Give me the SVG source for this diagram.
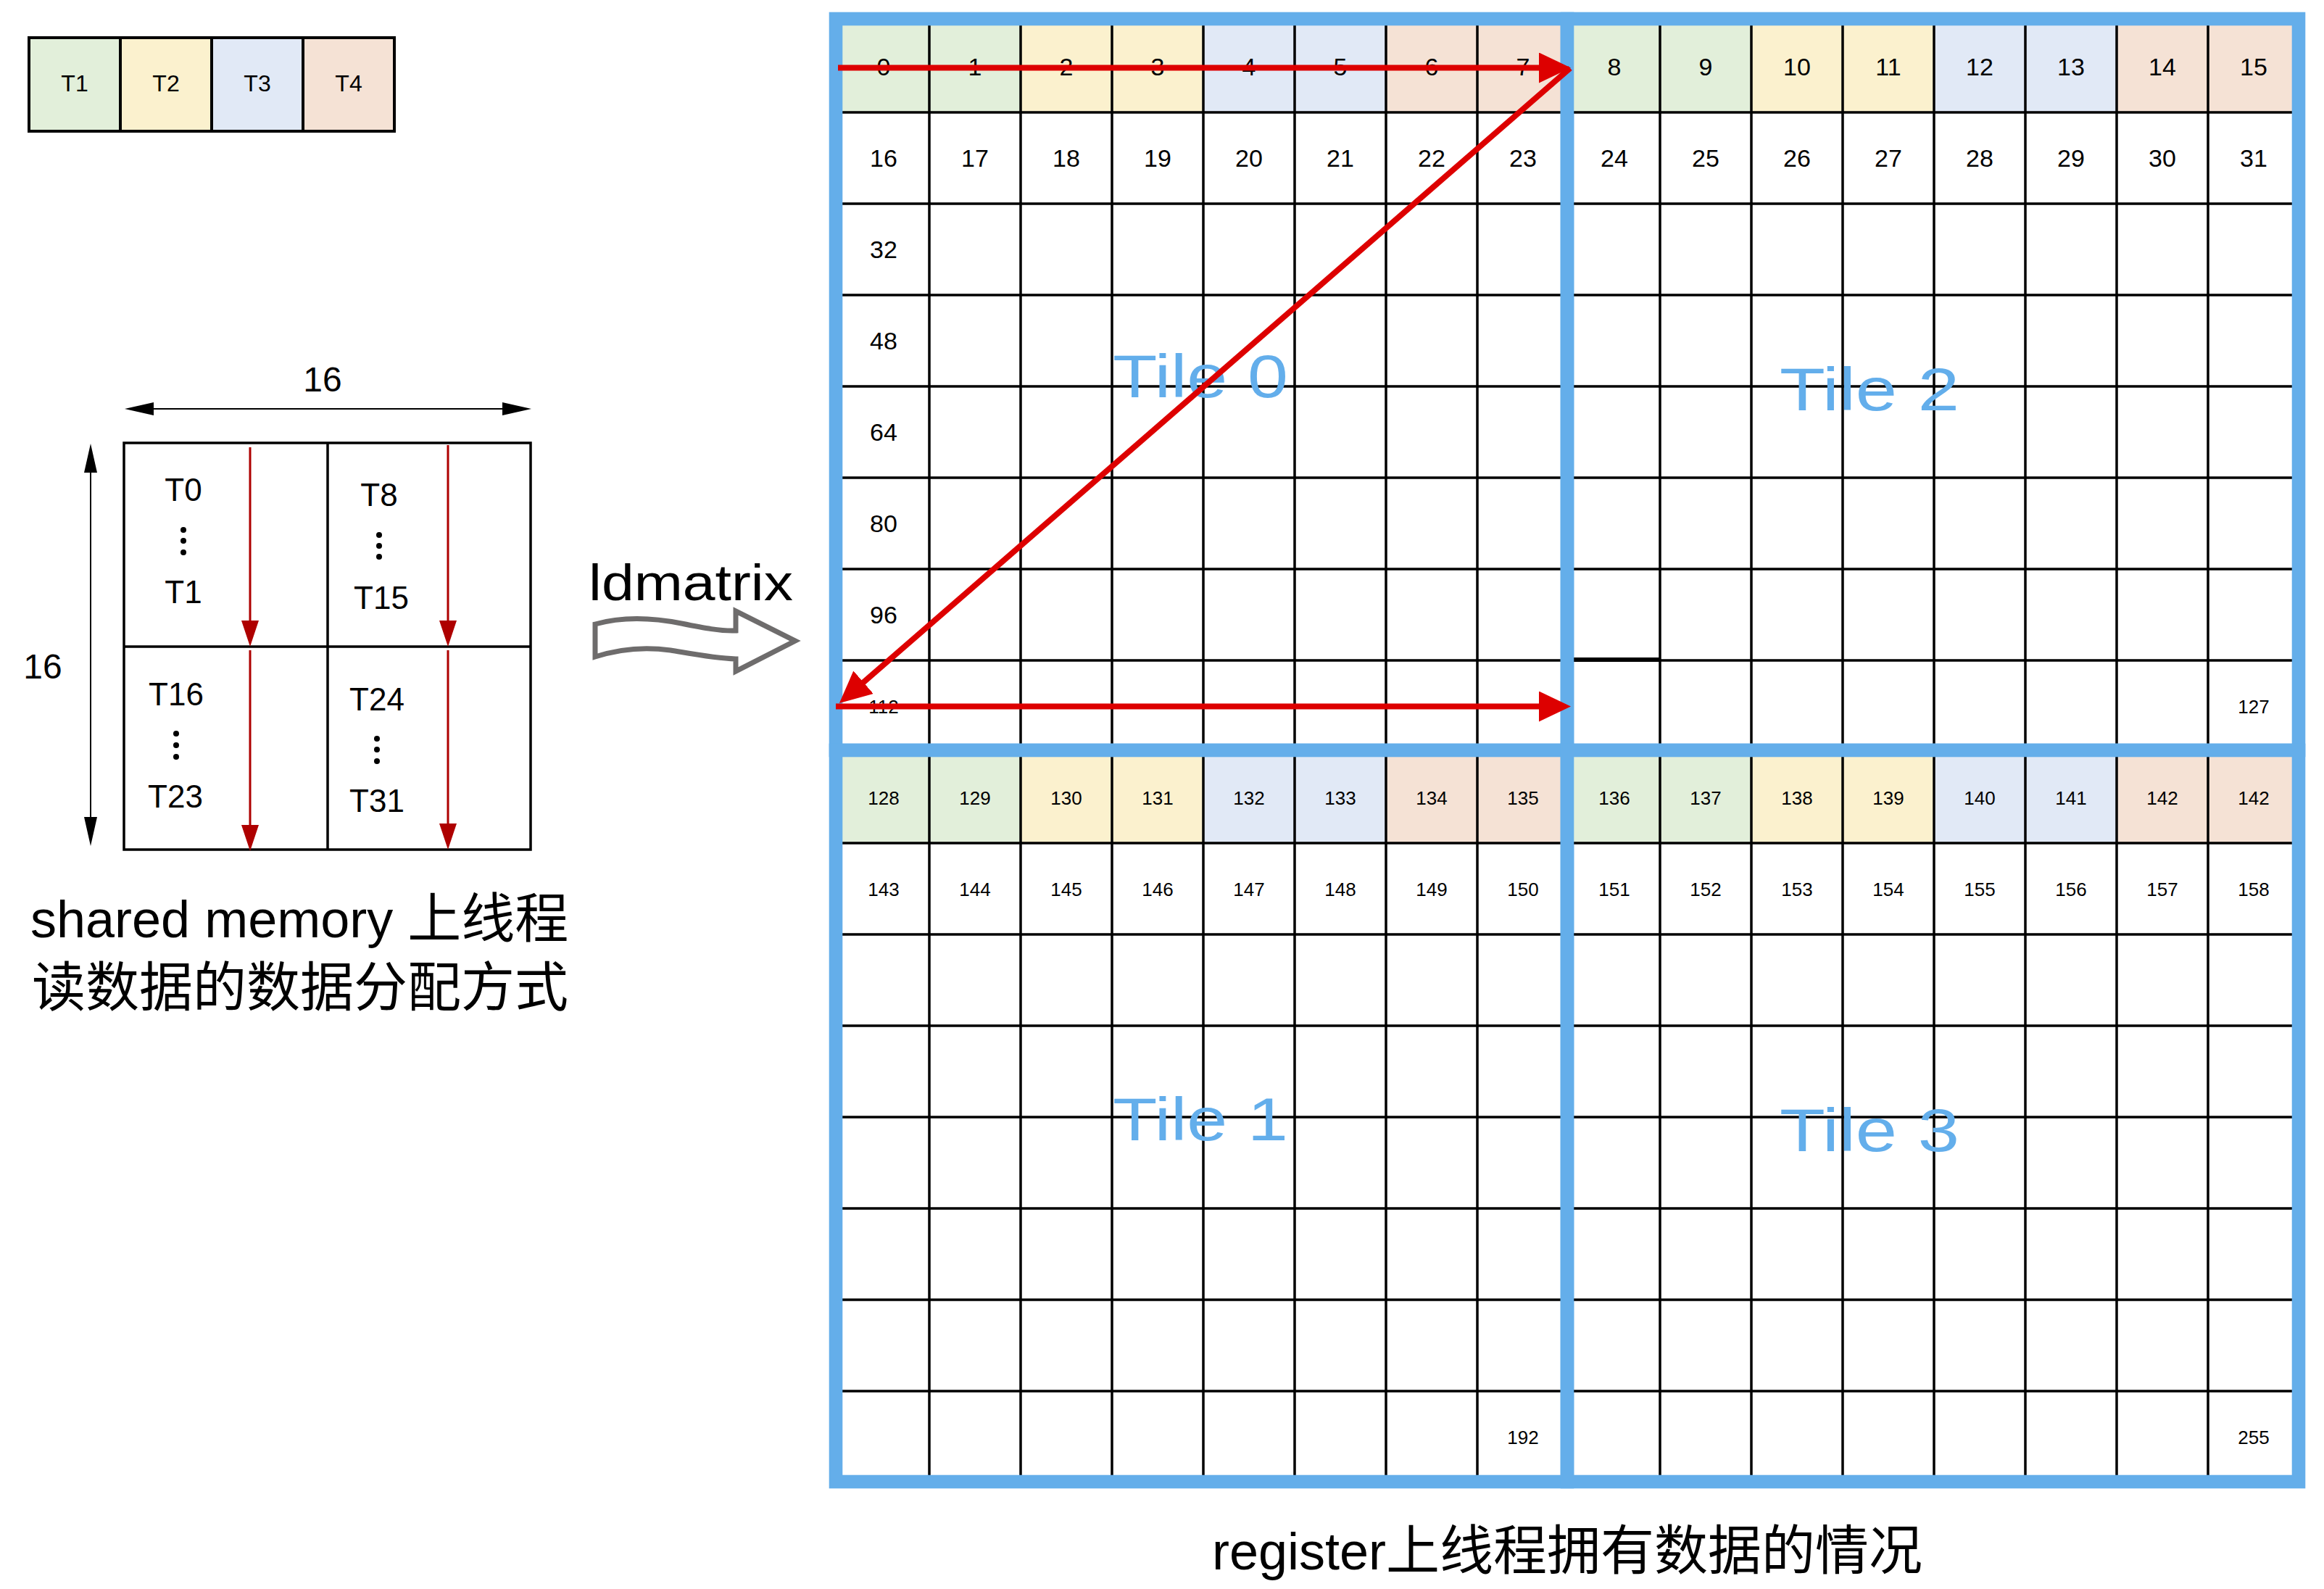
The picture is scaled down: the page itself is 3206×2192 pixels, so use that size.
<svg xmlns="http://www.w3.org/2000/svg" width="3206" height="2192" viewBox="0 0 3206 2192">
<style>
text{font-family:"Liberation Sans","Noto Sans CJK SC",sans-serif;fill:#000}
.n{font-size:34px;text-anchor:middle}
.s{font-size:26px;text-anchor:middle}
.lg{font-size:32px;text-anchor:middle}
.t{font-size:44px;text-anchor:middle}
.tile{font-size:84px;fill:#63AEEB;text-anchor:middle}
.grid{fill:none;stroke:#000;stroke-width:3.5}
.blue{fill:none;stroke:#64AEEA;stroke-width:18.6}
.g{fill:#E2EFDA}.y{fill:#FBF1CE}.b{fill:#E1E9F6}.p{fill:#F5E2D5}
.red{stroke:#DD0000;stroke-width:8;fill:none}
.dred{stroke:#AE0000;stroke-width:3;fill:none}
.dim{stroke:#000;stroke-width:2;fill:none}
.cap{font-size:74px}
</style>
<defs>
<marker id="ahRed" markerUnits="userSpaceOnUse" markerWidth="44" markerHeight="42" viewBox="0 0 44 42" refX="24" refY="21" orient="auto"><path d="M0,0 L44,21 L0,42 Z" fill="#DD0000"/></marker>
<marker id="ahDark" markerUnits="userSpaceOnUse" markerWidth="36" markerHeight="24" viewBox="0 0 36 24" refX="30" refY="12" orient="auto"><path d="M0,0 L36,12 L0,24 Z" fill="#AE0000"/></marker>
<marker id="ahBlack" markerUnits="userSpaceOnUse" markerWidth="40" markerHeight="18" viewBox="0 0 40 18" refX="35" refY="9" orient="auto-start-reverse"><path d="M0,0 L40,9 L0,18 Z" fill="#000"/></marker>
</defs>
<rect width="3206" height="2192" fill="#fff"/>

<g id="legend">
<rect class="g" x="40" y="52" width="126" height="129"/>
<rect class="y" x="166" y="52" width="126" height="129"/>
<rect class="b" x="292" y="52" width="126" height="129"/>
<rect class="p" x="418" y="52" width="126" height="129"/>
<path d="M40,52 H544 V181 H40 Z M166,52 V181 M292,52 V181 M418,52 V181" fill="none" stroke="#000" stroke-width="4"/>
<text class="lg" x="103" y="126">T1</text>
<text class="lg" x="229" y="126">T2</text>
<text class="lg" x="355" y="126">T3</text>
<text class="lg" x="481" y="126">T4</text>
</g>

<g id="smem">
<rect x="171" y="611" width="561" height="561" fill="#fff" stroke="#000" stroke-width="3.5"/>
<path d="M452,611 V1172 M171,892 H732" stroke="#000" stroke-width="3.5"/>
<text class="t" x="253" y="691">T0</text>
<text class="t" x="253" y="832">T1</text>
<text class="t" x="523" y="698">T8</text>
<text class="t" x="526" y="840">T15</text>
<text class="t" x="243" y="973">T16</text>
<text class="t" x="242" y="1114">T23</text>
<text class="t" x="520" y="980">T24</text>
<text class="t" x="520" y="1120">T31</text>
<g fill="#000">
<circle cx="253" cy="731" r="4"/><circle cx="253" cy="746" r="4"/><circle cx="253" cy="762" r="4"/>
<circle cx="523" cy="738" r="4"/><circle cx="523" cy="753" r="4"/><circle cx="523" cy="768" r="4"/>
<circle cx="243" cy="1012" r="4"/><circle cx="243" cy="1028" r="4"/><circle cx="243" cy="1044" r="4"/>
<circle cx="520" cy="1019" r="4"/><circle cx="520" cy="1034" r="4"/><circle cx="520" cy="1050" r="4"/>
</g>
<text x="445" y="540" style="font-size:48px;text-anchor:middle">16</text>
<text x="59" y="936" style="font-size:48px;text-anchor:middle">16</text>
</g>

<g id="ldmatrix">
<text x="953" y="828" style="font-size:70px;text-anchor:middle" textLength="282" lengthAdjust="spacingAndGlyphs">ldmatrix</text>
<path d="M821,861 C860,850 900,852 940,860 C970,866 995,871 1015,870 L1015,843 L1097,884 L1015,926 L1015,909 C985,908 955,902 925,897 C890,892 855,895 821,906 Z" fill="#fff" stroke="#6E6C6C" stroke-width="7" stroke-linejoin="miter"/>
</g>

<g id="caption-left">
<text class="cap" x="42" y="1293"><tspan style="font-size:72px">shared memory </tspan>上线程</text>
<text class="cap" x="44" y="1388">读数据的数据分配方式</text>
</g>

<g id="tile0">
<rect class="g" x="1156" y="29" width="126" height="126"/><rect class="g" x="1282" y="29" width="126" height="126"/>
<rect class="y" x="1408" y="29" width="126" height="126"/><rect class="y" x="1534" y="29" width="126" height="126"/>
<rect class="b" x="1660" y="29" width="126" height="126"/><rect class="b" x="1786" y="29" width="126" height="126"/>
<rect class="p" x="1912" y="29" width="126" height="126"/><rect class="p" x="2038" y="29" width="126" height="126"/>
<path class="grid" d="M1282,29V1037M1408,29V1037M1534,29V1037M1660,29V1037M1786,29V1037M1912,29V1037M2038,29V1037M1156,155H2164M1156,281H2164M1156,407H2164M1156,533H2164M1156,659H2164M1156,785H2164M1156,911H2164"/>
<rect class="blue" x="1153" y="26" width="1009" height="1009"/>
<text class="n" x="1219" y="104">0</text><text class="n" x="1345" y="104">1</text><text class="n" x="1471" y="104">2</text><text class="n" x="1597" y="104">3</text>
<text class="n" x="1723" y="104">4</text><text class="n" x="1849" y="104">5</text><text class="n" x="1975" y="104">6</text><text class="n" x="2101" y="104">7</text>
<text class="n" x="1219" y="230">16</text><text class="n" x="1345" y="230">17</text><text class="n" x="1471" y="230">18</text><text class="n" x="1597" y="230">19</text>
<text class="n" x="1723" y="230">20</text><text class="n" x="1849" y="230">21</text><text class="n" x="1975" y="230">22</text><text class="n" x="2101" y="230">23</text>
<text class="n" x="1219" y="356">32</text><text class="n" x="1219" y="482">48</text><text class="n" x="1219" y="608">64</text><text class="n" x="1219" y="734">80</text><text class="n" x="1219" y="860">96</text>
<text class="s" x="1219" y="984">112</text>
<text class="tile" x="1656" y="548" textLength="242" lengthAdjust="spacingAndGlyphs">Tile 0</text>
</g>

<g id="tile2">
<rect class="g" x="2164" y="29" width="126" height="126"/><rect class="g" x="2290" y="29" width="126" height="126"/>
<rect class="y" x="2416" y="29" width="126" height="126"/><rect class="y" x="2542" y="29" width="126" height="126"/>
<rect class="b" x="2668" y="29" width="126" height="126"/><rect class="b" x="2794" y="29" width="126" height="126"/>
<rect class="p" x="2920" y="29" width="126" height="126"/><rect class="p" x="3046" y="29" width="126" height="126"/>
<path class="grid" d="M2290,29V1037M2416,29V1037M2542,29V1037M2668,29V1037M2794,29V1037M2920,29V1037M3046,29V1037M2164,155H3172M2164,281H3172M2164,407H3172M2164,533H3172M2164,659H3172M2164,785H3172M2290,911H3172"/>
<path d="M2164,910H2290" stroke="#000" stroke-width="6"/>
<rect class="blue" x="2162" y="26" width="1009" height="1009"/>
<text class="n" x="2227" y="104">8</text><text class="n" x="2353" y="104">9</text><text class="n" x="2479" y="104">10</text><text class="n" x="2605" y="104">11</text>
<text class="n" x="2731" y="104">12</text><text class="n" x="2857" y="104">13</text><text class="n" x="2983" y="104">14</text><text class="n" x="3109" y="104">15</text>
<text class="n" x="2227" y="230">24</text><text class="n" x="2353" y="230">25</text><text class="n" x="2479" y="230">26</text><text class="n" x="2605" y="230">27</text>
<text class="n" x="2731" y="230">28</text><text class="n" x="2857" y="230">29</text><text class="n" x="2983" y="230">30</text><text class="n" x="3109" y="230">31</text>
<text class="s" x="3109" y="984">127</text>
<text class="tile" x="2579" y="566" textLength="248" lengthAdjust="spacingAndGlyphs">Tile 2</text>
</g>

<g id="tile1">
<rect class="g" x="1156" y="1037" width="126" height="126"/><rect class="g" x="1282" y="1037" width="126" height="126"/>
<rect class="y" x="1408" y="1037" width="126" height="126"/><rect class="y" x="1534" y="1037" width="126" height="126"/>
<rect class="b" x="1660" y="1037" width="126" height="126"/><rect class="b" x="1786" y="1037" width="126" height="126"/>
<rect class="p" x="1912" y="1037" width="126" height="126"/><rect class="p" x="2038" y="1037" width="126" height="126"/>
<path class="grid" d="M1282,1037V2045M1408,1037V2045M1534,1037V2045M1660,1037V2045M1786,1037V2045M1912,1037V2045M2038,1037V2045M1156,1163H2164M1156,1289H2164M1156,1415H2164M1156,1541H2164M1156,1667H2164M1156,1793H2164M1156,1919H2164"/>
<rect class="blue" x="1153" y="1035" width="1009" height="1009"/>
<text class="s" x="1219" y="1110">128</text><text class="s" x="1345" y="1110">129</text><text class="s" x="1471" y="1110">130</text><text class="s" x="1597" y="1110">131</text>
<text class="s" x="1723" y="1110">132</text><text class="s" x="1849" y="1110">133</text><text class="s" x="1975" y="1110">134</text><text class="s" x="2101" y="1110">135</text>
<text class="s" x="1219" y="1236">143</text><text class="s" x="1345" y="1236">144</text><text class="s" x="1471" y="1236">145</text><text class="s" x="1597" y="1236">146</text>
<text class="s" x="1723" y="1236">147</text><text class="s" x="1849" y="1236">148</text><text class="s" x="1975" y="1236">149</text><text class="s" x="2101" y="1236">150</text>
<text class="s" x="2101" y="1992">192</text>
<text class="tile" x="1656" y="1573" textLength="242" lengthAdjust="spacingAndGlyphs">Tile 1</text>
</g>

<g id="tile3">
<rect class="g" x="2164" y="1037" width="126" height="126"/><rect class="g" x="2290" y="1037" width="126" height="126"/>
<rect class="y" x="2416" y="1037" width="126" height="126"/><rect class="y" x="2542" y="1037" width="126" height="126"/>
<rect class="b" x="2668" y="1037" width="126" height="126"/><rect class="b" x="2794" y="1037" width="126" height="126"/>
<rect class="p" x="2920" y="1037" width="126" height="126"/><rect class="p" x="3046" y="1037" width="126" height="126"/>
<path class="grid" d="M2290,1037V2045M2416,1037V2045M2542,1037V2045M2668,1037V2045M2794,1037V2045M2920,1037V2045M3046,1037V2045M2164,1163H3172M2164,1289H3172M2164,1415H3172M2164,1541H3172M2164,1667H3172M2164,1793H3172M2164,1919H3172"/>
<rect class="blue" x="2162" y="1035" width="1009" height="1009"/>
<text class="s" x="2227" y="1110">136</text><text class="s" x="2353" y="1110">137</text><text class="s" x="2479" y="1110">138</text><text class="s" x="2605" y="1110">139</text>
<text class="s" x="2731" y="1110">140</text><text class="s" x="2857" y="1110">141</text><text class="s" x="2983" y="1110">142</text><text class="s" x="3109" y="1110">142</text>
<text class="s" x="2227" y="1236">151</text><text class="s" x="2353" y="1236">152</text><text class="s" x="2479" y="1236">153</text><text class="s" x="2605" y="1236">154</text>
<text class="s" x="2731" y="1236">155</text><text class="s" x="2857" y="1236">156</text><text class="s" x="2983" y="1236">157</text><text class="s" x="3109" y="1236">158</text>
<text class="s" x="3109" y="1992">255</text>
<text class="tile" x="2579" y="1588" textLength="248" lengthAdjust="spacingAndGlyphs">Tile 3</text>
</g>

<g id="connectors">
<line class="dim" x1="177" y1="564" x2="728" y2="564" marker-start="url(#ahBlack)" marker-end="url(#ahBlack)"/>
<line class="dim" x1="125" y1="617" x2="125" y2="1162" marker-start="url(#ahBlack)" marker-end="url(#ahBlack)"/>
<line class="dred" x1="345" y1="617" x2="345" y2="886" marker-end="url(#ahDark)"/>
<line class="dred" x1="345" y1="897" x2="345" y2="1168" marker-end="url(#ahDark)"/>
<line class="dred" x1="618" y1="614" x2="618" y2="886" marker-end="url(#ahDark)"/>
<line class="dred" x1="618" y1="897" x2="618" y2="1166" marker-end="url(#ahDark)"/>
<line class="red" x1="1156" y1="93.5" x2="2147" y2="93.5" marker-end="url(#ahRed)"/>
<line class="red" x1="2166" y1="94" x2="1173" y2="957" marker-end="url(#ahRed)"/>
<line class="red" x1="1153" y1="974.5" x2="2147" y2="974.5" marker-end="url(#ahRed)"/>
</g>

<g id="caption-bottom">
<text class="cap" x="1672" y="2165"><tspan style="font-size:72px">register</tspan>上线程拥有数据的情况</text>
</g>
</svg>
